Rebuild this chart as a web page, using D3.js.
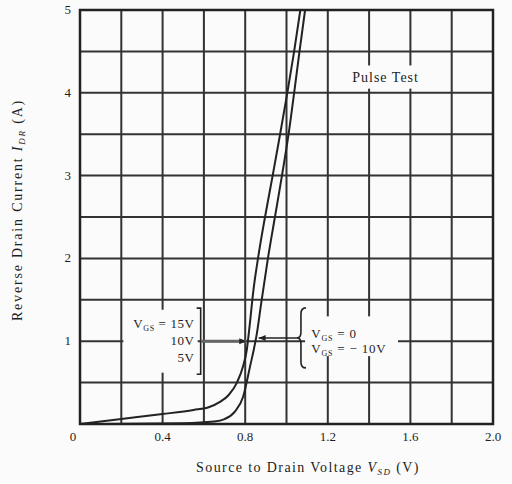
<!DOCTYPE html>
<html>
<head>
<meta charset="utf-8">
<script src="https://cdn.jsdelivr.net/npm/d3@7"></script>
<style>
body { margin: 0; background: #fbfbfb; }
text { font-family: "Liberation Serif", "DejaVu Serif", serif; fill: #1e1e1e; }
</style>
</head>
<body>
<div id="chart"></div>
<script>
// grid and ticks
var xGrid = [0.2, 0.4, 0.6, 0.8, 1.0, 1.2, 1.4, 1.6, 1.8];
var yGrid = [0.5, 1, 1.5, 2, 2.5, 3, 3.5, 4, 4.5];
var xTicks = [0, 0.4, 0.8, 1.2, 1.6, 2.0];
var xTickLabels = ["0", "0.4", "0.8", "1.2", "1.6", "2.0"];
var yTicks = [1, 2, 3, 4, 5];

// VGS = 15V, 10V, 5V
var onV = [0, 0.2, 0.4, 0.55, 0.62, 0.68, 0.72, 0.76, 0.79, 0.808, 0.822, 0.839, 0.862, 0.896, 0.933, 0.969, 1.004, 1.037, 1.067];
var onI = [0, 0.06, 0.12, 0.17, 0.2, 0.27, 0.35, 0.5, 0.7, 0.9, 1.2, 1.6, 2.0, 2.5, 3.0, 3.5, 4.0, 4.5, 5.0];
// VGS = 0, -10V
var offV = [0, 0.5, 0.65, 0.7, 0.75, 0.79, 0.823, 0.857, 0.877, 0.91, 0.944, 0.978, 1.01, 1.037, 1.063, 1.09];
var offI = [0, 0.01, 0.03, 0.06, 0.15, 0.33, 0.69, 1.1, 1.45, 2.0, 2.5, 3.0, 3.5, 4.0, 4.5, 5.0];

var W = 512, H = 484;
var margin = {top: 10, right: 19, bottom: 60, left: 80},
    width = W - margin.left - margin.right,
    height = H - margin.top - margin.bottom;

var svg = d3.select("#chart").append("svg")
    .attr("width", W)
    .attr("height", H);

var g = svg.append("g")
    .attr("transform", "translate(" + margin.left + "," + margin.top + ")");

var x = d3.scaleLinear().domain([0, 2]).range([0, width]);
var y = d3.scaleLinear().domain([0, 5]).range([height, 0]);

// grid
g.selectAll(".vgrid").data(xGrid).enter().append("line")
    .attr("x1", d => x(d)).attr("x2", d => x(d))
    .attr("y1", 0).attr("y2", height)
    .attr("stroke", "#333").attr("stroke-width", 2);

g.selectAll(".hgrid").data(yGrid).enter().append("line")
    .attr("x1", 0).attr("x2", width)
    .attr("y1", d => y(d)).attr("y2", d => y(d))
    .attr("stroke", "#333").attr("stroke-width", 2);

// white boxes behind labels (they cut the grid in the original)
function blank(x0, x1, y0, y1) {
    g.append("rect")
        .attr("x", x(x0)).attr("y", y(y1))
        .attr("width", x(x1) - x(x0)).attr("height", y(y0) - y(y1))
        .attr("fill", "#fbfbfb");
}
blank(0.21, 0.57, 0.62, 1.38);
blank(1.09, 1.54, 0.82, 1.30);
blank(1.31, 1.67, 4.05, 4.33);

// frame
g.append("rect")
    .attr("width", width).attr("height", height)
    .attr("fill", "none").attr("stroke", "#222").attr("stroke-width", 2.5);

// curves
var line = d3.line()
    .x(d => x(d[0]))
    .y(d => y(d[1]))
    .curve(d3.curveMonotoneX);

g.append("path")
    .datum(d3.zip(onV, onI))
    .attr("d", line)
    .attr("fill", "none").attr("stroke", "#222").attr("stroke-width", 2);

g.append("path")
    .datum(d3.zip(offV, offI))
    .attr("d", line)
    .attr("fill", "none").attr("stroke", "#222").attr("stroke-width", 2);

// tick labels
g.selectAll(".xt").data(xTicks).enter().append("text")
    .attr("x", (d, i) => x(d) + (i == 0 ? -7 : 0))
    .attr("y", height + 17)
    .attr("text-anchor", "middle")
    .attr("font-size", 13)
    .text((d, i) => xTickLabels[i]);

g.selectAll(".yt").data(yTicks).enter().append("text")
    .attr("x", -9)
    .attr("y", d => y(d) + 4)
    .attr("text-anchor", "end")
    .attr("font-size", 13)
    .text(d => d);

// axis titles
var xt = svg.append("text")
    .attr("x", 308).attr("y", 472)
    .attr("text-anchor", "middle")
    .attr("font-size", 14)
    .attr("letter-spacing", 1.4);
xt.append("tspan").text("Source to Drain Voltage  ");
xt.append("tspan").attr("font-style", "italic").text("V");
xt.append("tspan").attr("font-size", 9).attr("dy", 3).attr("font-style", "italic").text("SD");
xt.append("tspan").attr("dy", -3).text("  (V)");

var yt = svg.append("text")
    .attr("transform", "translate(22,210) rotate(-90)")
    .attr("text-anchor", "middle")
    .attr("font-size", 14)
    .attr("letter-spacing", 1.8);
yt.append("tspan").text("Reverse Drain Current  ");
yt.append("tspan").attr("font-style", "italic").text("I");
yt.append("tspan").attr("font-size", 9).attr("dy", 3).attr("font-style", "italic").text("DR");
yt.append("tspan").attr("dy", -3).text("  (A)");

// Pulse Test
g.append("text")
    .attr("x", x(1.48)).attr("y", y(4.19) + 5)
    .attr("text-anchor", "middle")
    .attr("font-size", 14)
    .attr("letter-spacing", 1)
    .text("Pulse Test");

// left annotation: VGS = 15V / 10V / 5V
function vgs(sel, rest) {
    sel.append("tspan").text("V");
    sel.append("tspan").attr("font-size", 8).attr("dy", 3).text("GS");
    sel.append("tspan").attr("dy", -3).text(rest);
}
var la = g.append("g").attr("font-size", 13).attr("letter-spacing", 0.6);
vgs(la.append("text").attr("x", x(0.555)).attr("y", y(1.22) + 5).attr("text-anchor", "end"), " = 15V");
la.append("text").attr("x", x(0.555)).attr("y", y(1.01) + 5).attr("text-anchor", "end").text("10V");
la.append("text").attr("x", x(0.555)).attr("y", y(0.81) + 5).attr("text-anchor", "end").text("5V");

g.append("path")
    .attr("d", "M" + (x(0.565)) + "," + y(1.40) + "h4v" + (y(0.60) - y(1.40)) + "h-4")
    .attr("fill", "none").attr("stroke", "#222").attr("stroke-width", 1.6);

g.append("line")
    .attr("x1", x(0.585)).attr("x2", x(0.805))
    .attr("y1", y(1.0)).attr("y2", y(1.0))
    .attr("stroke", "#666").attr("stroke-width", 3);
g.append("path")
    .attr("d", "M" + x(0.805) + "," + y(1.0) + "l-7,-3v6z")
    .attr("fill", "#222");

// right annotation: VGS = 0 / VGS = -10V
var bx = x(1.07), by = y(1.04);
g.append("path")
    .attr("d", "M" + (bx + 5) + "," + (by - 30) +
        "q-5,0 -5,6 v18 q0,6 -4,6 q4,0 4,6 v18 q0,6 5,6")
    .attr("fill", "none").attr("stroke", "#222").attr("stroke-width", 1.6);

g.append("line")
    .attr("x1", x(0.865)).attr("x2", bx - 4)
    .attr("y1", by).attr("y2", by)
    .attr("stroke", "#222").attr("stroke-width", 1.5);
g.append("path")
    .attr("d", "M" + x(0.865) + "," + by + "l7,-3v6z")
    .attr("fill", "#222");

var ra = g.append("g").attr("font-size", 13).attr("letter-spacing", 0.8);
vgs(ra.append("text").attr("x", x(1.12)).attr("y", y(1.10) + 5), " = 0");
vgs(ra.append("text").attr("x", x(1.12)).attr("y", y(0.92) + 5), " = \u2212 10V");
</script>
</body>
</html>
